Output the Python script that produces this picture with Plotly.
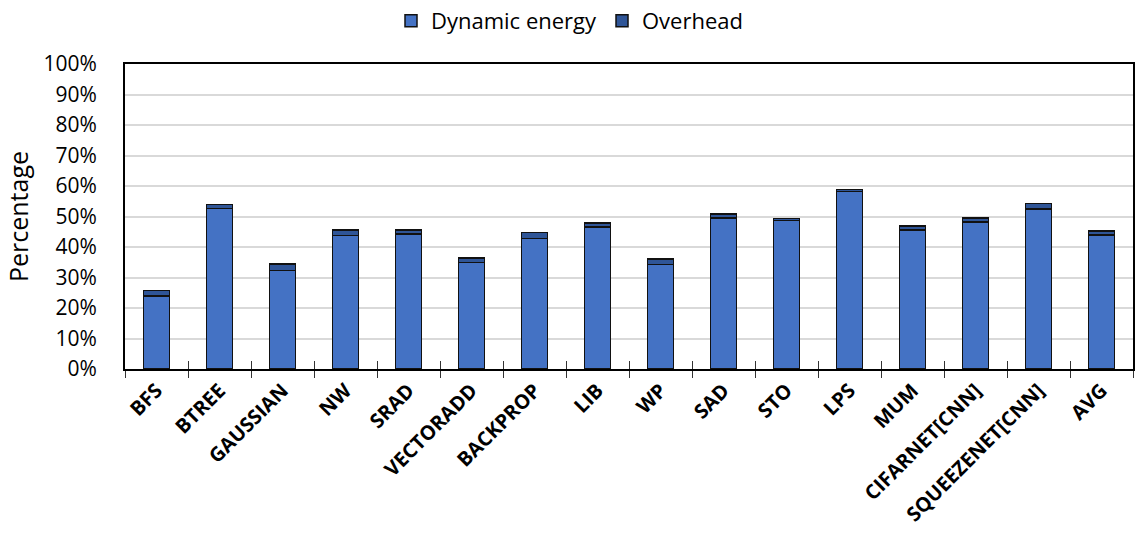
import plotly.graph_objects as go

categories = ["BFS", "BTREE", "GAUSSIAN", "NW", "SRAD", "VECTORADD", "BACKPROP", "LIB",
              "WP", "SAD", "STO", "LPS", "MUM", "CIFARNET[CNN]", "SQUEEZENET[CNN]", "AVG"]
dynamic_energy = [23.9, 52.7, 32.3, 43.7, 44.3, 34.9, 42.8, 46.6,
                  34.3, 49.5, 48.7, 58.2, 45.6, 48.2, 52.5, 43.9]
overhead = [1.8, 1.3, 2.2, 1.8, 1.2, 1.5, 1.9, 1.3,
            1.7, 1.3, 0.7, 0.7, 1.3, 1.3, 1.8, 1.4]
y_ticks = list(range(0, 101, 10))
y_tick_labels = [f"{v}%" for v in y_ticks]

FONT = "Open Sans"
outline = dict(color="#111111", width=1.5)
x_range = [-0.5, len(categories) - 0.5]

fig = go.Figure()
fig.add_trace(go.Bar(x=categories, y=dynamic_energy, name="Dynamic energy",
                     marker=dict(color="#4472C4", line=outline)))
fig.add_trace(go.Bar(x=categories, y=overhead, name="Overhead",
                     marker=dict(color="#2F5597", line=outline)))
# empty companion trace so the inner half of the crossing tick marks is drawn
fig.add_trace(go.Scatter(x=categories, y=[None] * len(categories), xaxis="x2",
                         showlegend=False, hoverinfo="skip", mode="markers"))

fig.update_layout(
    width=1139, height=537,
    barmode="stack", bargap=0.59,
    paper_bgcolor="white", plot_bgcolor="white",
    margin=dict(l=125, r=4, t=64, b=168),
    font=dict(family=FONT, color="#000000"),
    legend=dict(orientation="h", x=0.5, xanchor="center", xref="container",
                y=1.0, yref="container", yanchor="top",
                font=dict(size=22, family=FONT), itemwidth=30,
                traceorder="normal"),
    showlegend=True,
    xaxis=dict(
        range=x_range, autorange=False,
        tickangle=-45, tickfont=dict(size=20, family=FONT, weight="bold"),
        ticks="outside", tickson="boundaries", ticklen=7, tickcolor="#333333",
        showline=True, linecolor="#000000", linewidth=2, mirror=True,
        showgrid=False,
    ),
    xaxis2=dict(range=x_range, autorange=False, overlaying="x", side="bottom",
                ticks="inside", tickson="boundaries", ticklen=8,
                tickcolor="#333333", showticklabels=False,
                showline=False, showgrid=False),
)
fig.update_yaxes(
    range=[0, 100], tickvals=y_ticks, ticktext=y_tick_labels,
    tickfont=dict(size=21, family=FONT), ticklabelstandoff=22,
    title=dict(text="Percentage", font=dict(size=25, family=FONT), standoff=8),
    showgrid=True, gridcolor="#D9D9D9", gridwidth=1.5,
    showline=True, linecolor="#000000", linewidth=2, mirror=True,
    ticks="", zeroline=False,
)

fig.write_html("out.html")
